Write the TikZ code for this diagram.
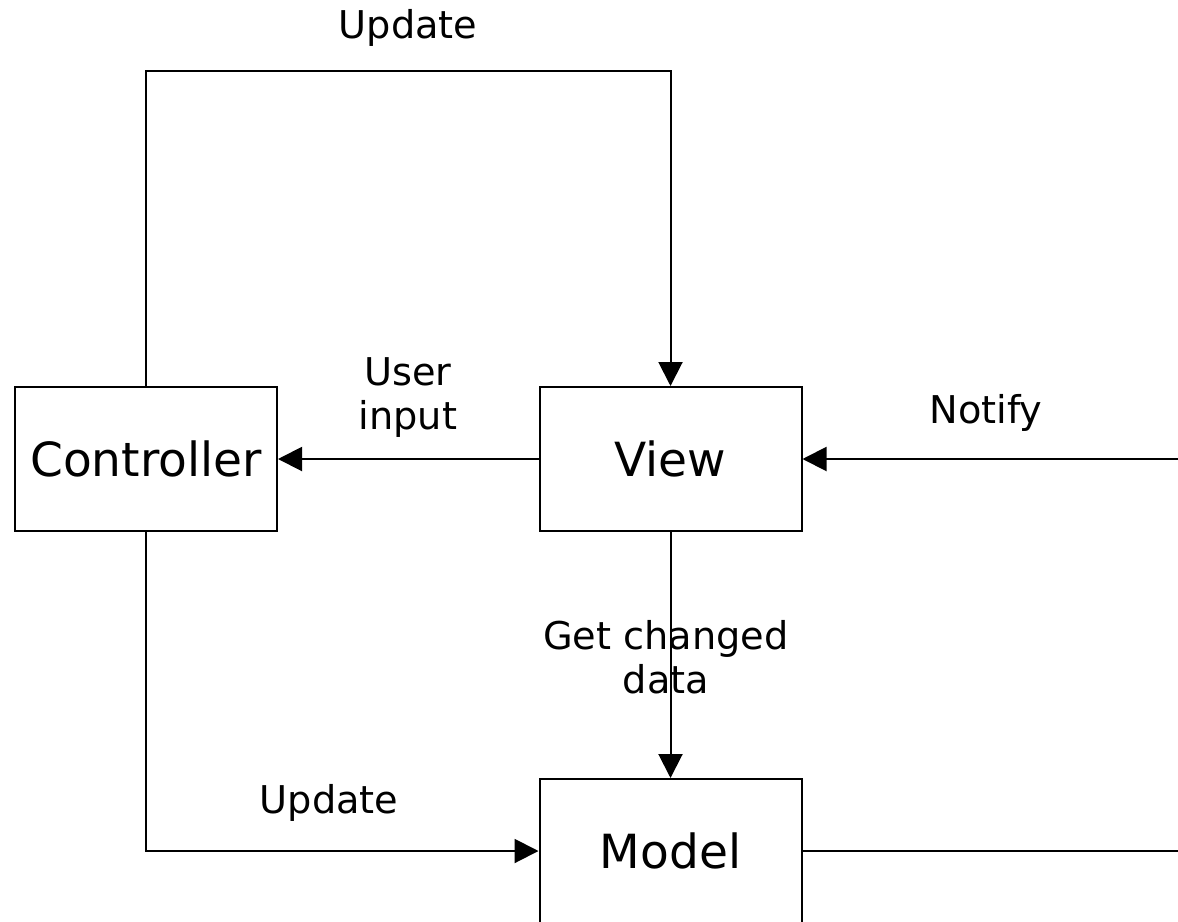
\documentclass[tikz,border=0pt]{standalone}
\usepackage{fontspec}
\setmainfont{DejaVu Sans}
\usetikzlibrary{arrows.meta}

\tikzset{
    block/.style={rectangle, draw, line width=1.5pt, minimum width=196.5pt, minimum height=108pt,
        font=\fontsize{35.3}{41}\selectfont},
    lbl/.style={align=center, inner sep=0pt, font=\fontsize{28.7}{33}\selectfont},
    link/.style={line width=1.5pt},
    flow/.style={link, -{Triangle[length=18pt, width=18pt]}}
}

\begin{document}
\begin{tikzpicture}[x=0.75pt, y=-0.75pt]
        \useasboundingbox (0, 0) rectangle (1178, 921);

        \node[block] (ctrl) at (146, 459) {Controller};
        \node[block] (view) at (670.5, 459) {View};
        \node[block] (model) at (670.5, 851) {Model};

        \coordinate (top) at (408, 71);
        \coordinate (notifysrc) at (1178, 459);
        \coordinate (modelout) at (1178, 851);

        \node[lbl] (updtop) at (408, 28) {Update};
        \node[lbl] (userin) at (408, 398) {User\\input};
        \node[lbl] (notify) at (986, 413) {Notify};
        \node[lbl] (getdata) at (666, 657) {Get changed\\data};
        \node[lbl] (updbot) at (329, 803) {Update};

        \draw[flow] (ctrl.north) |- (top) -| (view.north);
        \draw[flow] (view.west) -- (ctrl.east);
        \draw[flow] (notifysrc) -- (view.east);
        \draw[flow] (view.south) -- (model.north);
        \draw[flow] (ctrl.south) |- (model.west);
        \draw[link] (model.east) -- (modelout);

    \end{tikzpicture}
\end{document}
